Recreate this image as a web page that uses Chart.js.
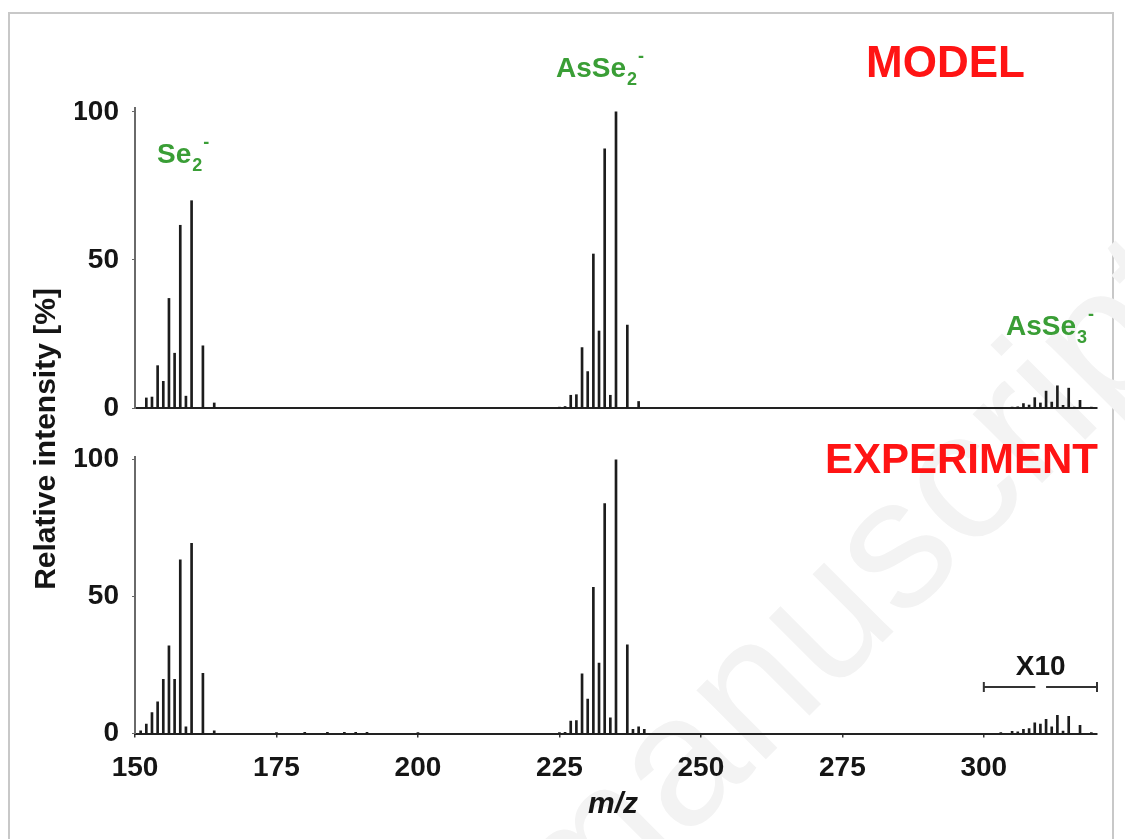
<!DOCTYPE html>
<html>
<head>
<meta charset="utf-8">
<script src="https://cdn.jsdelivr.net/npm/chart.js@4.4.1/dist/chart.umd.min.js"></script>
<style>
    body { margin: 0; background: #fff; }
    #wrap { position: relative; width: 1125px; height: 839px; overflow: hidden; }
    #frame { position: absolute; left: 8px; top: 12px; width: 1106px; height: 900px; border: 2px solid #c8c8c8; box-sizing: border-box; }
    canvas { position: absolute; left: 0; top: 0; }
</style>
</head>
<body>
<div id="wrap">
    <div id="frame"></div>
    <canvas id="model-chart" width="1125" height="839"></canvas>
    <canvas id="expt-chart" width="1125" height="839"></canvas>
</div>
<script>
// tick labels
const xTickValues = [150, 175, 200, 225, 250, 275, 300];
const yTickValues = [0, 50, 100];

// MODEL spectrum (Se2-, AsSe2-, AsSe3- clusters)
const modelMz = [152, 153, 154, 155, 156, 157, 158, 159, 160, 162, 164,
    225, 226, 227, 228, 229, 230, 231, 232, 233, 234, 235, 237, 239,
    305, 306, 307, 308, 309, 310, 311, 312, 313, 314, 315, 316, 317, 319];
const modelIntensity = [3.4, 3.7, 14.3, 9, 37, 18.5, 61.7, 4, 70, 21, 1.7,
    0.3, 0.5, 4.3, 4.5, 20.4, 12.3, 52, 26, 87.5, 4.3, 100, 28, 2.2,
    0.3, 0.4, 1.5, 1, 3.5, 1.7, 5.7, 2, 7.5, 0.9, 6.7, 0.3, 2.6, 0.3];

// EXPERIMENT spectrum
const exptMz = [151, 152, 153, 154, 155, 156, 157, 158, 159, 160, 162, 164,
    175, 180, 184, 187, 189, 191, 200,
    225, 226, 227, 228, 229, 230, 231, 232, 233, 234, 235, 237, 238, 239, 240,
    303, 305, 306, 307, 308, 309, 310, 311, 312, 313, 314, 315, 317, 319];
const exptIntensity = [1, 3.4, 7.6, 11.6, 19.8, 32, 19.8, 63.4, 2.4, 69.5, 22, 1,
    0.3, 0.4, 0.4, 0.4, 0.4, 0.4, 0.3,
    0.3, 0.4, 4.5, 4.7, 21.8, 12.6, 53.4, 25.7, 84, 5.7, 100, 32.4, 1.5, 2.4, 1.5,
    0.3, 0.8, 0.6, 1.5, 1.8, 3.9, 3.4, 5.2, 2.4, 6.6, 0.9, 6.3, 3, 0.3];

const FONT = '"Liberation Sans", Arial, Helvetica, sans-serif';
const RED = '#ff1414';
const GREEN = '#3a9e36';
const INK = '#151515';

function drawIon(ctx, base, sub, x, y, size) {
    ctx.fillStyle = GREEN;
    ctx.textAlign = 'left';
    ctx.textBaseline = 'alphabetic';
    ctx.font = `bold ${size}px ${FONT}`;
    ctx.fillText(base, x, y);
    const w = ctx.measureText(base).width;
    ctx.font = `bold ${Math.round(size * 0.65)}px ${FONT}`;
    ctx.fillText(sub, x + w + 1, y + size * 0.27);
    const w2 = ctx.measureText(sub).width;
    ctx.fillText('-', x + w + w2 + 2, y - size * 0.55);
}

const modelLabels = {
    id: 'modelLabels',
    beforeDraw(chart) {
        // faint diagonal watermark behind everything
        const ctx = chart.ctx;
        ctx.save();
        ctx.translate(575, 950);
        ctx.rotate(-Math.PI / 4);
        ctx.fillStyle = '#f3f3f3';
        ctx.font = `185px ${FONT}`;
        ctx.fillText('manuscript', 0, 0);
        ctx.restore();
    },
    afterDraw(chart) {
        const ctx = chart.ctx;
        ctx.save();
        ctx.fillStyle = RED;
        ctx.font = `bold 44px ${FONT}`;
        ctx.textAlign = 'left';
        ctx.fillText('MODEL', 866, 77);
        drawIon(ctx, 'Se', '2', 157, 163, 28);
        drawIon(ctx, 'AsSe', '2', 556, 77, 28);
        drawIon(ctx, 'AsSe', '3', 1006, 335, 28);
        ctx.restore();
    }
};

const exptLabels = {
    id: 'exptLabels',
    afterDraw(chart) {
        const ctx = chart.ctx;
        const x = chart.scales.x;
        const y = chart.scales.y;
        ctx.save();
        ctx.fillStyle = RED;
        ctx.font = `bold 42px ${FONT}`;
        ctx.textAlign = 'right';
        ctx.fillText('EXPERIMENT', chart.chartArea.right + 1, 473);

        // X10 bracket over the AsSe3- cluster
        const by = y.getPixelForValue(17);
        const x0 = x.getPixelForValue(300), x1 = x.getPixelForValue(320);
        const g0 = x.getPixelForValue(309.1), g1 = x.getPixelForValue(311);
        ctx.strokeStyle = '#333';
        ctx.lineWidth = 2;
        ctx.beginPath();
        ctx.moveTo(x0, by); ctx.lineTo(g0, by);
        ctx.moveTo(g1, by); ctx.lineTo(x1, by);
        ctx.moveTo(x0, by - 5); ctx.lineTo(x0, by + 5);
        ctx.moveTo(x1, by - 5); ctx.lineTo(x1, by + 5);
        ctx.stroke();
        ctx.fillStyle = INK;
        ctx.font = `bold 28px ${FONT}`;
        ctx.textAlign = 'center';
        ctx.fillText('X10', (g0 + g1) / 2, 675);

        // axis titles
        ctx.font = `italic bold 30px ${FONT}`;
        ctx.fillText('m/z', 613, 813);
        ctx.translate(55, 439);
        ctx.rotate(-Math.PI / 2);
        ctx.font = `bold 30px ${FONT}`;
        ctx.fillText('Relative intensity [%]', 0, 0);
        ctx.restore();
    }
};

function makePanel(canvasId, mz, intensity, panel) {
    const ctx = document.getElementById(canvasId).getContext('2d');
    return new Chart(ctx, {
        type: 'bar',
        data: {
            datasets: [{
                data: mz.map((m, i) => ({ x: m, y: intensity[i] })),
                backgroundColor: '#1c1c1c',
                borderWidth: 0,
                barThickness: 2,
                grouped: false
            }]
        },
        options: {
            responsive: false,
            animation: false,
            layout: { padding: panel.padding },
            plugins: { legend: { display: false }, tooltip: { enabled: false } },
            scales: {
                x: {
                    type: 'linear',
                    min: 150,
                    max: 320,
                    offset: false,
                    afterBuildTicks: s => { s.ticks = xTickValues.map(v => ({ value: v })); },
                    afterFit: s => { s.height = panel.xHeight; },
                    ticks: {
                        display: panel.showX,
                        padding: 14,
                        color: INK,
                        font: { family: FONT, size: 28, weight: 'bold' }
                    },
                    grid: { display: panel.showX, offset: false, drawOnChartArea: false, tickLength: 4, color: '#333', lineWidth: 1.5 },
                    border: { display: true, color: '#222', width: 2 }
                },
                y: {
                    min: 0,
                    max: panel.yMax,
                    afterBuildTicks: s => { s.ticks = yTickValues.map(v => ({ value: v })); },
                    afterFit: s => { s.width = 60; },
                    ticks: {
                        padding: 13,
                        color: INK,
                        font: { family: FONT, size: 28, weight: 'bold' }
                    },
                    grid: { drawOnChartArea: false, tickLength: 3, color: '#666' },
                    border: { display: true, color: '#6a6a6a', width: 2 }
                }
            }
        },
        plugins: [panel.labels]
    });
}

document.addEventListener('DOMContentLoaded', function () {
    makePanel('model-chart', modelMz, modelIntensity, {
        padding: { left: 75, right: 28, top: 108, bottom: 431 },
        xHeight: 0, showX: false, yMax: 101.3, labels: modelLabels
    });
    makePanel('expt-chart', exptMz, exptIntensity, {
        padding: { left: 75, right: 28, top: 457, bottom: 25.5 },
        xHeight: 80, showX: true, yMax: 101, labels: exptLabels
    });
});
</script>
</body>
</html>
